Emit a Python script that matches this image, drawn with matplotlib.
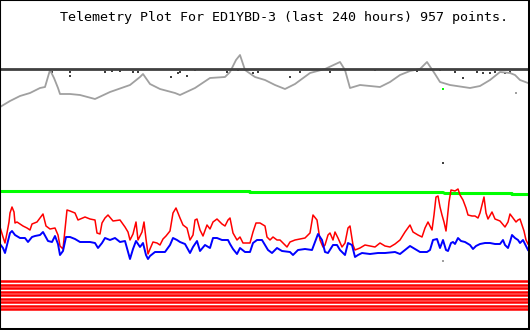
import numpy as np
import matplotlib
matplotlib.use('Agg')
import matplotlib.pyplot as plt

# Telemetry traces, x in screen columns (0..528 = 240 hours), y in screen rows
title = 'Telemetry Plot For ED1YBD-3 (last 240 hours) 957 points.'

gray_x = [0, 10, 20, 30, 40, 45, 50, 54, 58, 60, 70, 80, 95, 110, 130, 140, 143, 150, 160,
          175, 180, 195, 210, 225, 230, 236, 240, 245, 255, 265, 275, 285, 295, 310, 325,
          340, 345, 350, 360, 380, 390, 400, 410, 420, 427, 435, 440, 450, 470, 480, 490,
          500, 510, 515, 520, 528]
gray_y = [107, 101, 96, 93, 88, 87, 70, 78, 88, 94, 94, 95, 99, 92, 85, 77, 74, 84, 89,
          93, 95, 88, 78, 77, 72, 60, 55, 70, 77, 80, 85, 89, 84, 73, 69,
          62, 70, 88, 85, 87, 82, 75, 71, 69, 62, 74, 82, 85, 88, 86, 80,
          72, 73, 75, 80, 83]

black_x = [0, 528]
black_y = [69, 69]
tick_x = [52, 70, 70, 105, 112, 120, 133, 138, 171, 178, 180, 187, 195, 227, 238, 253, 258,
          290, 300, 330, 345, 375, 417, 440, 455, 463, 477, 483, 490, 495, 505, 510]
tick_y = [72, 72, 76, 72, 71, 71, 72, 72, 77, 73, 72, 76, 70, 72, 70, 73, 72,
          77, 72, 72, 70, 70, 71, 70, 72, 78, 72, 73, 73, 72, 73, 72]

green_x = [0, 250, 250, 443, 445, 512, 512, 528]
green_y = [191.5, 191.5, 192.5, 192.5, 193.5, 193.5, 194.5, 194.5]

red_x = [0, 3, 5, 7, 9, 10, 12, 14, 15, 17, 20, 23, 27, 30, 32, 37, 40, 43, 46, 50, 55, 58,
         60, 63, 65, 67, 70, 75, 78, 85, 90, 95, 97, 100, 102, 105, 108, 113, 120, 125, 128,
         130, 133, 136, 138, 142, 144, 146, 148, 150, 153, 157, 160, 163, 166, 170, 173,
         176, 180, 183, 187, 190, 193, 195, 197, 200, 203, 207, 210, 213, 217, 222, 225,
         228, 230, 233, 237, 240, 243, 250, 253, 256, 260, 265, 267, 270, 273, 277, 280,
         283, 287, 290, 295, 300, 305, 310, 313, 317, 320, 323, 325, 328, 330, 333, 335,
         338, 342, 345, 348, 350, 353, 355, 360, 365, 370, 375, 380, 385, 390, 395, 400,
         405, 410, 413, 418, 422, 425, 428, 432, 434, 436, 438, 440, 442, 444, 446, 449,
         451, 455, 458, 460, 463, 466, 468, 472, 475, 478, 480, 482, 484, 486, 488, 492,
         495, 500, 505, 508, 510, 513, 516, 518, 520, 522, 524, 526, 528]
red_y = [227, 237, 243, 233, 222, 213, 207, 212, 223, 222, 224, 226, 228, 230, 224, 222, 218,
         214, 226, 229, 228, 235, 246, 249, 230, 210, 211, 213, 220, 217, 219, 220, 233, 234,
         223, 218, 215, 221, 220, 227, 232, 240, 234, 222, 240, 232, 222, 239, 254, 249, 242,
         243, 245, 239, 236, 231, 213, 208, 218, 225, 228, 240, 235, 220, 219, 230, 236, 225,
         229, 222, 219, 224, 226, 220, 218, 233, 240, 237, 243, 243, 232, 223, 223, 226, 237,
         240, 237, 240, 240, 243, 247, 242, 240, 239, 238, 233, 215, 220, 240, 247, 245, 235,
         233, 240, 232, 238, 247, 243, 228, 226, 245, 250, 248, 245, 246, 247, 243, 246, 247,
         244, 240, 232, 225, 232, 235, 237, 228, 222, 230, 215, 197, 196, 207, 215, 222, 231,
         202, 190, 191, 189, 195, 200, 208, 215, 216, 216, 218, 213, 205, 197, 213, 219, 212,
         219, 221, 227, 222, 214, 218, 222, 220, 219, 225, 231, 240, 244]

blue_x = [0, 3, 5, 7, 10, 12, 15, 20, 25, 28, 32, 35, 40, 43, 48, 52, 55, 58, 60, 63, 66,
          70, 75, 80, 90, 95, 98, 102, 105, 110, 115, 120, 125, 128, 130, 133, 136, 140,
          143, 146, 148, 150, 155, 160, 165, 170, 173, 177, 180, 185, 190, 193, 197, 200,
          205, 210, 213, 217, 222, 228, 230, 233, 237, 240, 245, 250, 253, 257, 262, 265,
          268, 272, 277, 282, 290, 293, 298, 305, 312, 315, 318, 322, 325, 328, 333, 337,
          340, 345, 348, 352, 355, 358, 362, 370, 378, 385, 395, 400, 405, 410, 415, 420,
          427, 430, 433, 437, 440, 443, 446, 448, 451, 453, 455, 458, 461, 465, 470, 473,
          476, 480, 485, 490, 495, 500, 503, 505, 508, 510, 512, 515, 518, 520, 523, 526, 528]
blue_y = [244, 248, 253, 245, 233, 231, 235, 238, 238, 242, 237, 236, 235, 232, 241, 242,
          236, 244, 255, 251, 237, 237, 239, 242, 242, 243, 248, 243, 238, 240, 238, 242,
          241, 252, 259, 249, 241, 247, 243, 255, 259, 256, 252, 252, 252, 245, 238, 240,
          242, 244, 253, 247, 241, 251, 245, 248, 238, 238, 240, 240, 244, 249, 254, 248,
          252, 252, 243, 240, 240, 245, 250, 253, 248, 251, 252, 255, 250, 249, 250, 242,
          234, 240, 252, 253, 245, 245, 250, 255, 243, 245, 257, 255, 253, 254, 253, 253,
          252, 254, 250, 246, 249, 252, 252, 250, 240, 239, 248, 240, 250, 251, 243, 242,
          244, 238, 241, 242, 245, 249, 246, 244, 243, 243, 244, 244, 240, 245, 248, 242,
          235, 238, 240, 243, 240, 246, 250]

# stray samples around the glitch near hour 201
stray_x = [443, 443, 443, 516]
stray_y = [163, 261, 89, 93]
stray_c = ['#404040', '#a0a0a0', '#00ff00', '#a0a0a0']

# digital channels, drawn as flat bars
bit_levels = [281.3, 284.8, 288.3, 291.8, 295.3, 298.8, 302.3, 305.8, 309.3]

fig = plt.figure(figsize=(5.3, 3.3), dpi=100)
ax = fig.add_axes([0, 0, 1, 1])
ax.set_xlim(0, 530)
ax.set_ylim(330, 0)
ax.set_xticks([])
ax.set_yticks([])

for lvl in bit_levels:
    ax.plot([0, 528], [lvl, lvl], color='#ff0000', lw=1.8, solid_capstyle='butt')

ax.plot(gray_x, gray_y, color='#a0a0a0', lw=1.3)
ax.plot(black_x, black_y, color='#404040', lw=2.0)
ax.scatter(tick_x, tick_y, s=2, marker='s', color='#404040', linewidths=0)
ax.plot(green_x, green_y, color='#00ff00', lw=2.2)
ax.plot(red_x, red_y, color='#ff0000', lw=1.1)
ax.plot(blue_x, blue_y, color='#0000ff', lw=1.4)
ax.scatter(stray_x, stray_y, s=3, marker='s', c=stray_c, linewidths=0)

ax.text(284, 17, title, ha='center', va='center', family='DejaVu Sans Mono', fontsize=9.6)

for side in ['left', 'top']:
    ax.spines[side].set_linewidth(1.5)
for side in ['right', 'bottom']:
    ax.spines[side].set_linewidth(2.9)

fig.savefig('out.png', dpi=100)
